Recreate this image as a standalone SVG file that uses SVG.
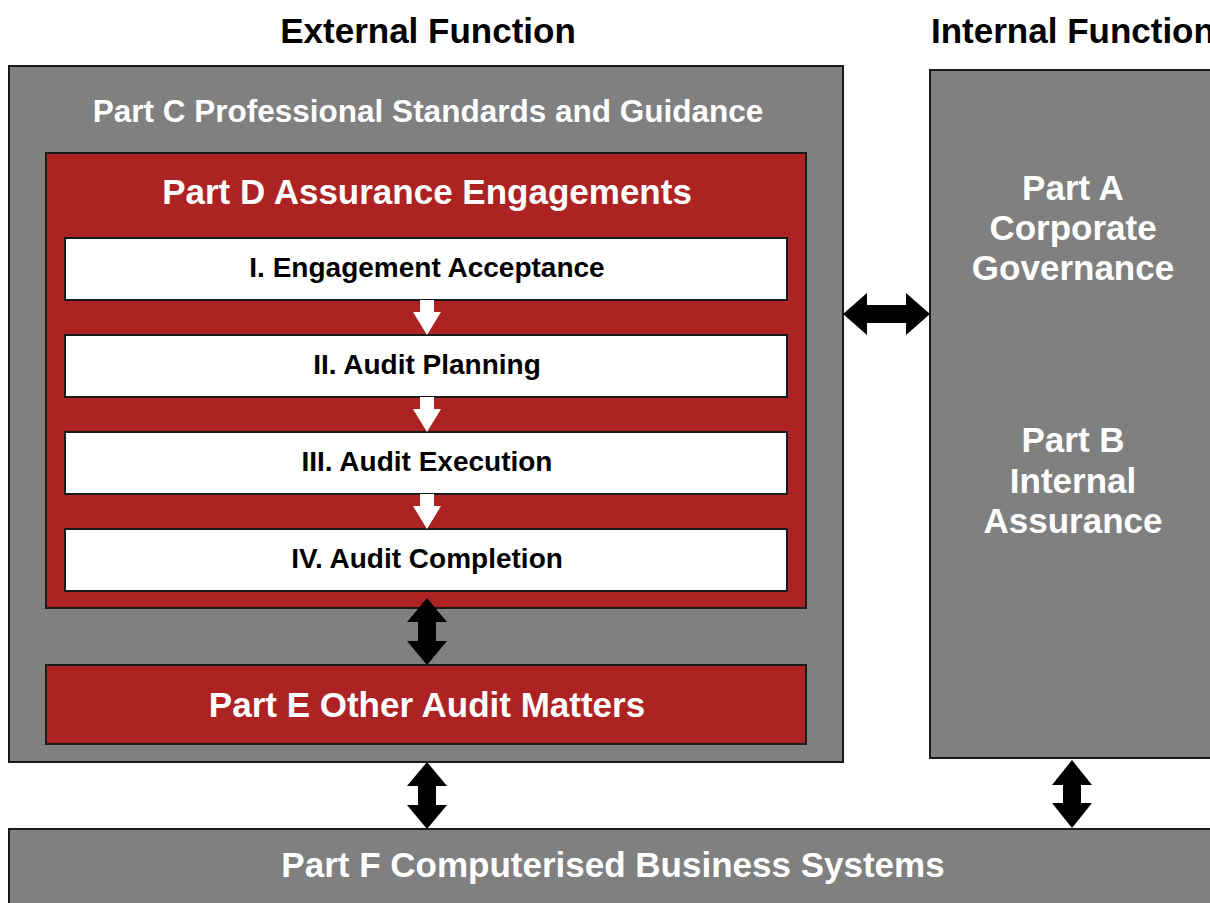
<svg xmlns="http://www.w3.org/2000/svg" width="1210" height="903" viewBox="0 0 1210 903">
<style>
.gray{fill:#808080;stroke:#1a1a1a;stroke-width:2}
.red{fill:#ad2323;stroke:#1a1a1a;stroke-width:2}
.white{fill:#ffffff;stroke:#1a1a1a;stroke-width:2}
text{font-family:"Liberation Sans",Arial,sans-serif;font-weight:bold;text-anchor:middle}
.hdr{font-size:35px;fill:#000}
.wt{fill:#ffffff}
.bt{fill:#000;font-size:28px}
.blk{fill:#000}
.wa{fill:#ffffff}
</style>
<rect width="1210" height="903" fill="#ffffff"/>
<text class="hdr" x="428" y="43">External Function</text>
<text class="hdr" x="931" y="43" style="text-anchor:start">Internal Function</text>
<g id="partC">
<rect class="gray" x="9" y="66" width="834" height="696"/>
<text class="wt" x="428" y="122" font-size="31.5">Part C Professional Standards and Guidance</text>
</g>
<g id="partD">
<rect class="red" x="46" y="153" width="760" height="455"/>
<text class="wt" x="427" y="204" font-size="35">Part D Assurance Engagements</text>
</g>
<g id="step1">
<rect class="white" x="65" y="238" width="722" height="62"/>
<text class="bt" x="427" y="277">I. Engagement Acceptance</text>
</g>
<g id="step2">
<rect class="white" x="65" y="335" width="722" height="62"/>
<text class="bt" x="427" y="374">II. Audit Planning</text>
</g>
<g id="step3">
<rect class="white" x="65" y="432" width="722" height="62"/>
<text class="bt" x="427" y="471">III. Audit Execution</text>
</g>
<g id="step4">
<rect class="white" x="65" y="529" width="722" height="62"/>
<text class="bt" x="427" y="568">IV. Audit Completion</text>
</g>
<g id="partE">
<rect class="red" x="46" y="665" width="760" height="79"/>
<text class="wt" x="427" y="717" font-size="35">Part E Other Audit Matters</text>
</g>
<g id="partAB">
<rect class="gray" x="930" y="70" width="290" height="688"/>
<text class="wt" font-size="35"><tspan x="1073" y="200">Part A</tspan><tspan x="1073" y="240">Corporate</tspan><tspan x="1073" y="280">Governance</tspan></text>
<text class="wt" font-size="35"><tspan x="1073" y="452">Part B</tspan><tspan x="1073" y="493">Internal</tspan><tspan x="1073" y="533">Assurance</tspan></text>
</g>
<g id="partF">
<rect class="gray" x="9" y="829" width="1211" height="90"/>
<text class="wt" x="613" y="877" font-size="35">Part F Computerised Business Systems</text>
</g>
<g id="connectors">
<polygon class="wa" points="420,300 434,300 434,312 441,312 427,335 413,312 420,312"/>
<polygon class="wa" points="420,397 434,397 434,409 441,409 427,432 413,409 420,409"/>
<polygon class="wa" points="420,494 434,494 434,506 441,506 427,529 413,506 420,506"/>
<polygon class="blk" points="843,314 867,293 867,305 906,305 906,293 930,314 906,335 906,323 867,323 867,335"/>
<polygon class="blk" points="427,598 447,622 436,622 436,641 447,641 427,665 407,641 418,641 418,622 407,622"/>
<polygon class="blk" points="427,762 447,786 436,786 436,805 447,805 427,829 407,805 418,805 418,786 407,786"/>
<polygon class="blk" points="1072,760 1092,785 1081,785 1081,803 1092,803 1072,828 1052,803 1063,803 1063,785 1052,785"/>
</g>
</svg>
